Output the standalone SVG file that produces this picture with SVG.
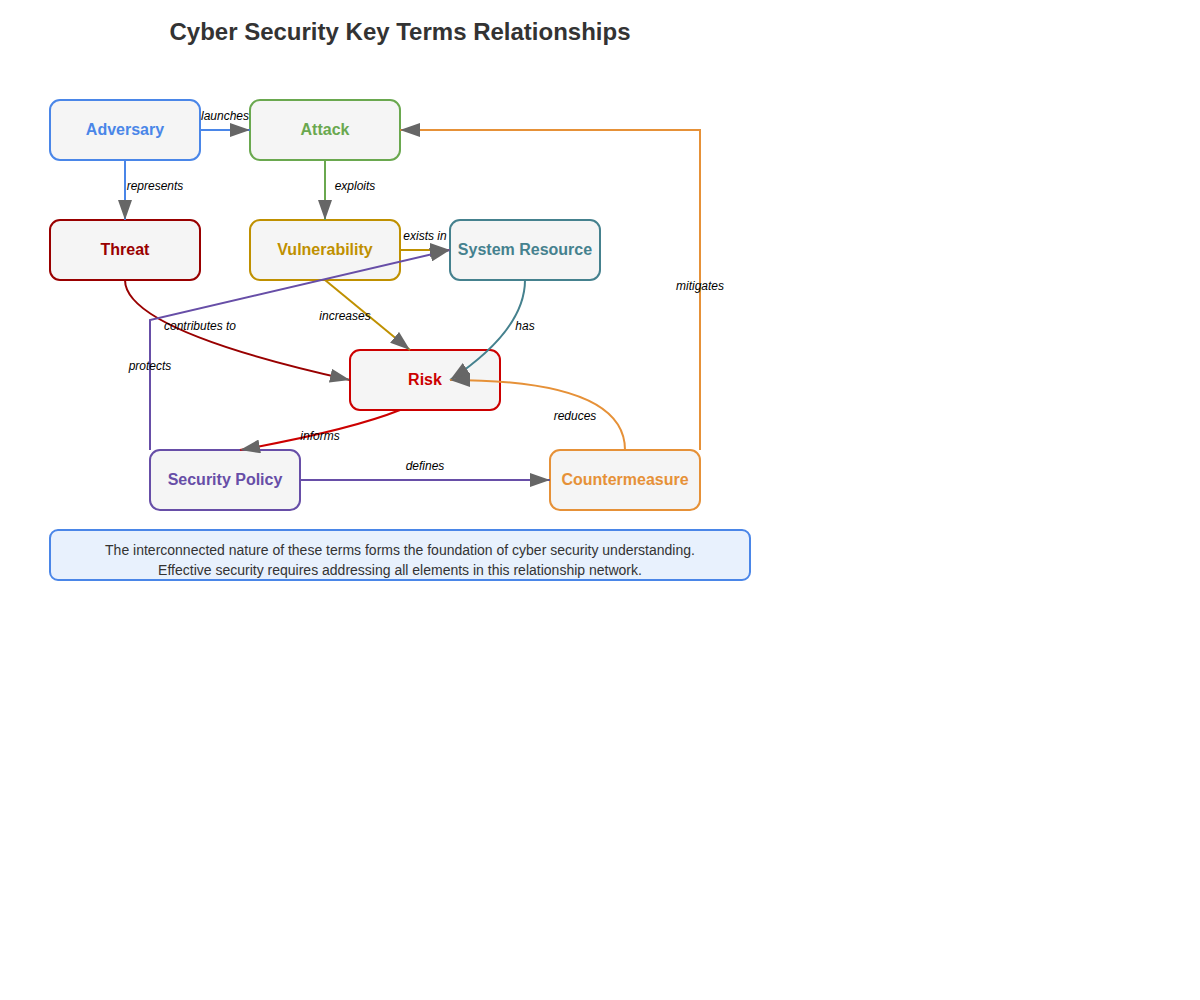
<svg xmlns="http://www.w3.org/2000/svg" width="1200" height="1000" viewBox="0 0 1200 1000">
<defs>
<marker id="arrow" viewBox="0 0 10 7" markerWidth="10" markerHeight="7" refX="10" refY="3.5" orient="auto">
<polygon points="0 0, 10 3.5, 0 7" fill="#666"/>
</marker>
<style>
.node{fill:#f5f5f5;stroke-width:2}
.nt{font-family:"Liberation Sans",Arial,sans-serif;font-size:16px;font-weight:bold;text-anchor:middle}
.lbl{font-family:"Liberation Sans",Arial,sans-serif;font-size:12px;font-style:italic;fill:#000;text-anchor:middle}
.c{fill:none;stroke-width:2;marker-end:url(#arrow)}
</style>
</defs>
<rect width="1200" height="1000" fill="#ffffff"/>
<text x="400" y="40" font-family="Liberation Sans, Arial, sans-serif" font-size="24" font-weight="bold" fill="#333" text-anchor="middle">Cyber Security Key Terms Relationships</text>

<g id="adversary"><rect class="node" x="50" y="100" width="150" height="60" rx="10" stroke="#4a86e8"/><text class="nt" x="125" y="135" fill="#4a86e8">Adversary</text></g>
<g id="attack"><rect class="node" x="250" y="100" width="150" height="60" rx="10" stroke="#6aa84f"/><text class="nt" x="325" y="135" fill="#6aa84f">Attack</text></g>
<g id="threat"><rect class="node" x="50" y="220" width="150" height="60" rx="10" stroke="#990000"/><text class="nt" x="125" y="255" fill="#990000">Threat</text></g>
<g id="vulnerability"><rect class="node" x="250" y="220" width="150" height="60" rx="10" stroke="#bf9000"/><text class="nt" x="325" y="255" fill="#bf9000">Vulnerability</text></g>
<g id="system-resource"><rect class="node" x="450" y="220" width="150" height="60" rx="10" stroke="#45818e"/><text class="nt" x="525" y="255" fill="#45818e">System Resource</text></g>
<g id="risk"><rect class="node" x="350" y="350" width="150" height="60" rx="10" stroke="#cc0000"/><text class="nt" x="425" y="385" fill="#cc0000">Risk</text></g>
<g id="security-policy"><rect class="node" x="150" y="450" width="150" height="60" rx="10" stroke="#674ea7"/><text class="nt" x="225" y="485" fill="#674ea7">Security Policy</text></g>
<g id="countermeasure"><rect class="node" x="550" y="450" width="150" height="60" rx="10" stroke="#e69138"/><text class="nt" x="625" y="485" fill="#e69138">Countermeasure</text></g>

<g id="connectors">
<path class="c" stroke="#4a86e8" d="M200,130 L250,130"/>
<path class="c" stroke="#4a86e8" d="M125,160 L125,220"/>
<path class="c" stroke="#6aa84f" d="M325,160 L325,220"/>
<path class="c" stroke="#bf9000" d="M400,250 L450,250"/>
<path class="c" stroke="#bf9000" d="M325,280 L410,350"/>
<path class="c" stroke="#45818e" d="M525,280 Q525,330 450,380"/>
<path class="c" stroke="#990000" d="M125,280 Q125,330 350,380"/>
<path class="c" stroke="#674ea7" d="M150,450 L150,320 L450,250"/>
<path class="c" stroke="#cc0000" d="M400,410 Q350,430 240,450"/>
<path class="c" stroke="#674ea7" d="M300,480 L550,480"/>
<path class="c" stroke="#e69138" d="M625,450 Q625,380 450,380"/>
<path class="c" stroke="#e69138" d="M700,450 L700,130 L400,130"/>
<text class="lbl" x="225" y="120">launches</text>
<text class="lbl" x="155" y="190">represents</text>
<text class="lbl" x="355" y="190">exploits</text>
<text class="lbl" x="425" y="240">exists in</text>
<text class="lbl" x="345" y="320">increases</text>
<text class="lbl" x="525" y="330">has</text>
<text class="lbl" x="200" y="330">contributes to</text>
<text class="lbl" x="150" y="370">protects</text>
<text class="lbl" x="320" y="440">informs</text>
<text class="lbl" x="425" y="470">defines</text>
<text class="lbl" x="575" y="420">reduces</text>
<text class="lbl" x="700" y="290">mitigates</text>
</g>

<g id="note">
<rect x="50" y="530" width="700" height="50" rx="8" fill="#e8f1fd" stroke="#4a86e8" stroke-width="2"/>
<text x="400" y="555" font-family="Liberation Sans, Arial, sans-serif" font-size="14" fill="#333" text-anchor="middle">The interconnected nature of these terms forms the foundation of cyber security understanding.</text>
<text x="400" y="575" font-family="Liberation Sans, Arial, sans-serif" font-size="14" fill="#333" text-anchor="middle">Effective security requires addressing all elements in this relationship network.</text>
</g>
</svg>
